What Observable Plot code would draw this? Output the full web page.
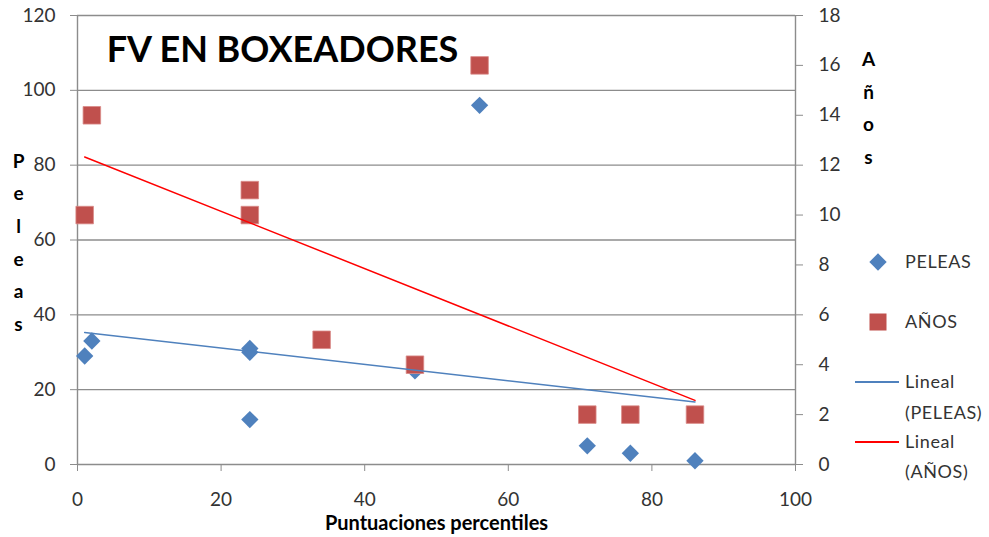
<!DOCTYPE html>
<html>
<head>
<meta charset="utf-8">
<script src="https://cdn.jsdelivr.net/npm/d3@7"></script>
<script src="https://cdn.jsdelivr.net/npm/@observablehq/plot@0.6"></script>
<style>
  html, body { margin: 0; padding: 0; background: #fff; }
</style>
</head>
<body>
<div id="chart"></div>
<script>
// ---- Data ----
const title = "FV EN BOXEADORES";
const xLabel = "Puntuaciones percentiles";
const yLeftLabel = "Peleas";
const yRightLabel = "Años";

const peleasX = [1, 2, 24, 24, 24, 47, 56, 71, 77, 86];
const peleasY = [29, 33, 30, 31, 12, 25, 96, 5, 3, 1];

const aniosX = [1, 2, 24, 24, 34, 47, 56, 71, 77, 86];
const aniosY = [10, 14, 11, 10, 5, 4, 16, 2, 2, 2];

const xTicks = [0, 20, 40, 60, 80, 100];
const yLeftTicks = [0, 20, 40, 60, 80, 100, 120];
const yRightTicks = [0, 2, 4, 6, 8, 10, 12, 14, 16, 18];

const legendLabels = ["PELEAS", "AÑOS", ["Lineal", "(PELEAS)"], ["Lineal", "(AÑOS)"]];

// ---- Build ----
const k = 120 / 18; // right axis (Años) mapped onto left scale
const peleasData = peleasX.map((x, i) => ({x, y: peleasY[i]}));
const aniosData = aniosX.map((x, i) => ({x, y: aniosY[i] * k}));

const blue = "#4F81BD";
const red = "#C0504D";
const grid = "#8c8c8c";
const textColor = "#333";

function legend(index, scales, values, dims) {
  const right = dims.width - dims.marginRight;
  const g = d3.create("svg:g")
    .attr("font-family", "Lato, sans-serif").attr("font-size", 18)
    .attr("fill", textColor).attr("letter-spacing", "0.6px").attr("text-anchor", "start");
  const sx = right + 83, tx = right + 110;
  g.append("path").attr("d", d3.symbol(d3.symbolDiamond2, Math.PI * 7.8 * 7.8)()).attr("transform", `translate(${sx},262)`).attr("fill", blue);
  g.append("text").attr("x", tx).attr("y", 262).attr("dy", "0.35em").text(legendLabels[0]);
  g.append("rect").attr("x", sx - 8.5).attr("y", 322 - 8.5).attr("width", 17).attr("height", 17).attr("fill", red);
  g.append("text").attr("x", tx).attr("y", 322).attr("dy", "0.35em").text(legendLabels[1]);
  g.append("line").attr("x1", right + 60).attr("x2", right + 104).attr("y1", 382).attr("y2", 382).attr("stroke", blue).attr("stroke-width", 2);
  g.append("text").attr("x", tx).attr("y", 382).attr("dy", "0.35em").text(legendLabels[2][0]);
  g.append("text").attr("x", tx).attr("y", 413).attr("dy", "0.35em").text(legendLabels[2][1]);
  g.append("line").attr("x1", right + 60).attr("x2", right + 104).attr("y1", 442).attr("y2", 442).attr("stroke", "#ff0000").attr("stroke-width", 2);
  g.append("text").attr("x", tx).attr("y", 442).attr("dy", "0.35em").text(legendLabels[3][0]);
  g.append("text").attr("x", tx).attr("y", 472).attr("dy", "0.35em").text(legendLabels[3][1]);
  return g.node();
}

const chart = Plot.plot({
  width: 989,
  height: 537,
  marginLeft: 77,
  marginRight: 194,
  marginTop: 15,
  marginBottom: 73,
  x: {domain: [0, 100], axis: null},
  y: {domain: [0, 120], axis: null},
  style: {fontFamily: "Lato, sans-serif", fontSize: "19px", background: "white", color: textColor},
  marks: [
    Plot.gridY(yLeftTicks.filter(d => d > 0), {stroke: grid, strokeOpacity: 1, strokeWidth: 1.4}),
    Plot.ruleX([0, 100], {stroke: grid, strokeWidth: 1.4}),
    Plot.ruleY([0], {stroke: grid, strokeWidth: 1.4}),
    Plot.axisY(yLeftTicks, {anchor: "left", label: null, tickSize: 7, tickPadding: 15, stroke: grid, fill: textColor, fontSize: 19}),
    Plot.axisY(yRightTicks.map(d => d * k), {anchor: "right", label: null, tickSize: 7, tickPadding: 16, tickFormat: d => String(Math.round(d / k)), stroke: grid, fill: textColor, fontSize: 19}),
    Plot.axisX(xTicks, {anchor: "bottom", label: null, tickSize: 7, tickPadding: 21, stroke: grid, fill: textColor, fontSize: 19}),
    Plot.dot(peleasData, {x: "x", y: "y", symbol: "diamond2", r: 7.8, fill: blue, stroke: "none"}),
    Plot.dot(aniosData, {x: "x", y: "y", symbol: "square", r: 9.9, fill: red, stroke: "#d98a88", strokeWidth: 0.8}),
    Plot.linearRegressionY(peleasData, {x: "x", y: "y", stroke: blue, strokeWidth: 1.5, ci: 0}),
    Plot.linearRegressionY(aniosData, {x: "x", y: "y", stroke: "#ff0000", strokeWidth: 1.5, ci: 0}),
    Plot.text([title], {frameAnchor: "top-left", dx: 205, dy: 35, textAnchor: "middle", lineAnchor: "middle", fontSize: 36, fontWeight: "bold", fill: "#000"}),
    Plot.text([xLabel], {frameAnchor: "bottom", dy: 59, textAnchor: "middle", lineAnchor: "middle", fontSize: 20, fontWeight: "bold", fill: "#000", style: "letter-spacing:0.5px"}),
    Plot.text([yLeftLabel.split("").join("\n")], {frameAnchor: "left", dx: -59, dy: -1, textAnchor: "middle", lineAnchor: "middle", lineHeight: 1.72, fontSize: 19, fontWeight: "bold", fill: "#000"}),
    Plot.text([yRightLabel.split("").join("\n")], {frameAnchor: "top-right", dx: 73, dy: 89, textAnchor: "middle", lineAnchor: "middle", lineHeight: 1.72, fontSize: 19, fontWeight: "bold", fill: "#000"}),
    legend
  ]
});
document.getElementById("chart").appendChild(chart);
</script>
</body>
</html>
